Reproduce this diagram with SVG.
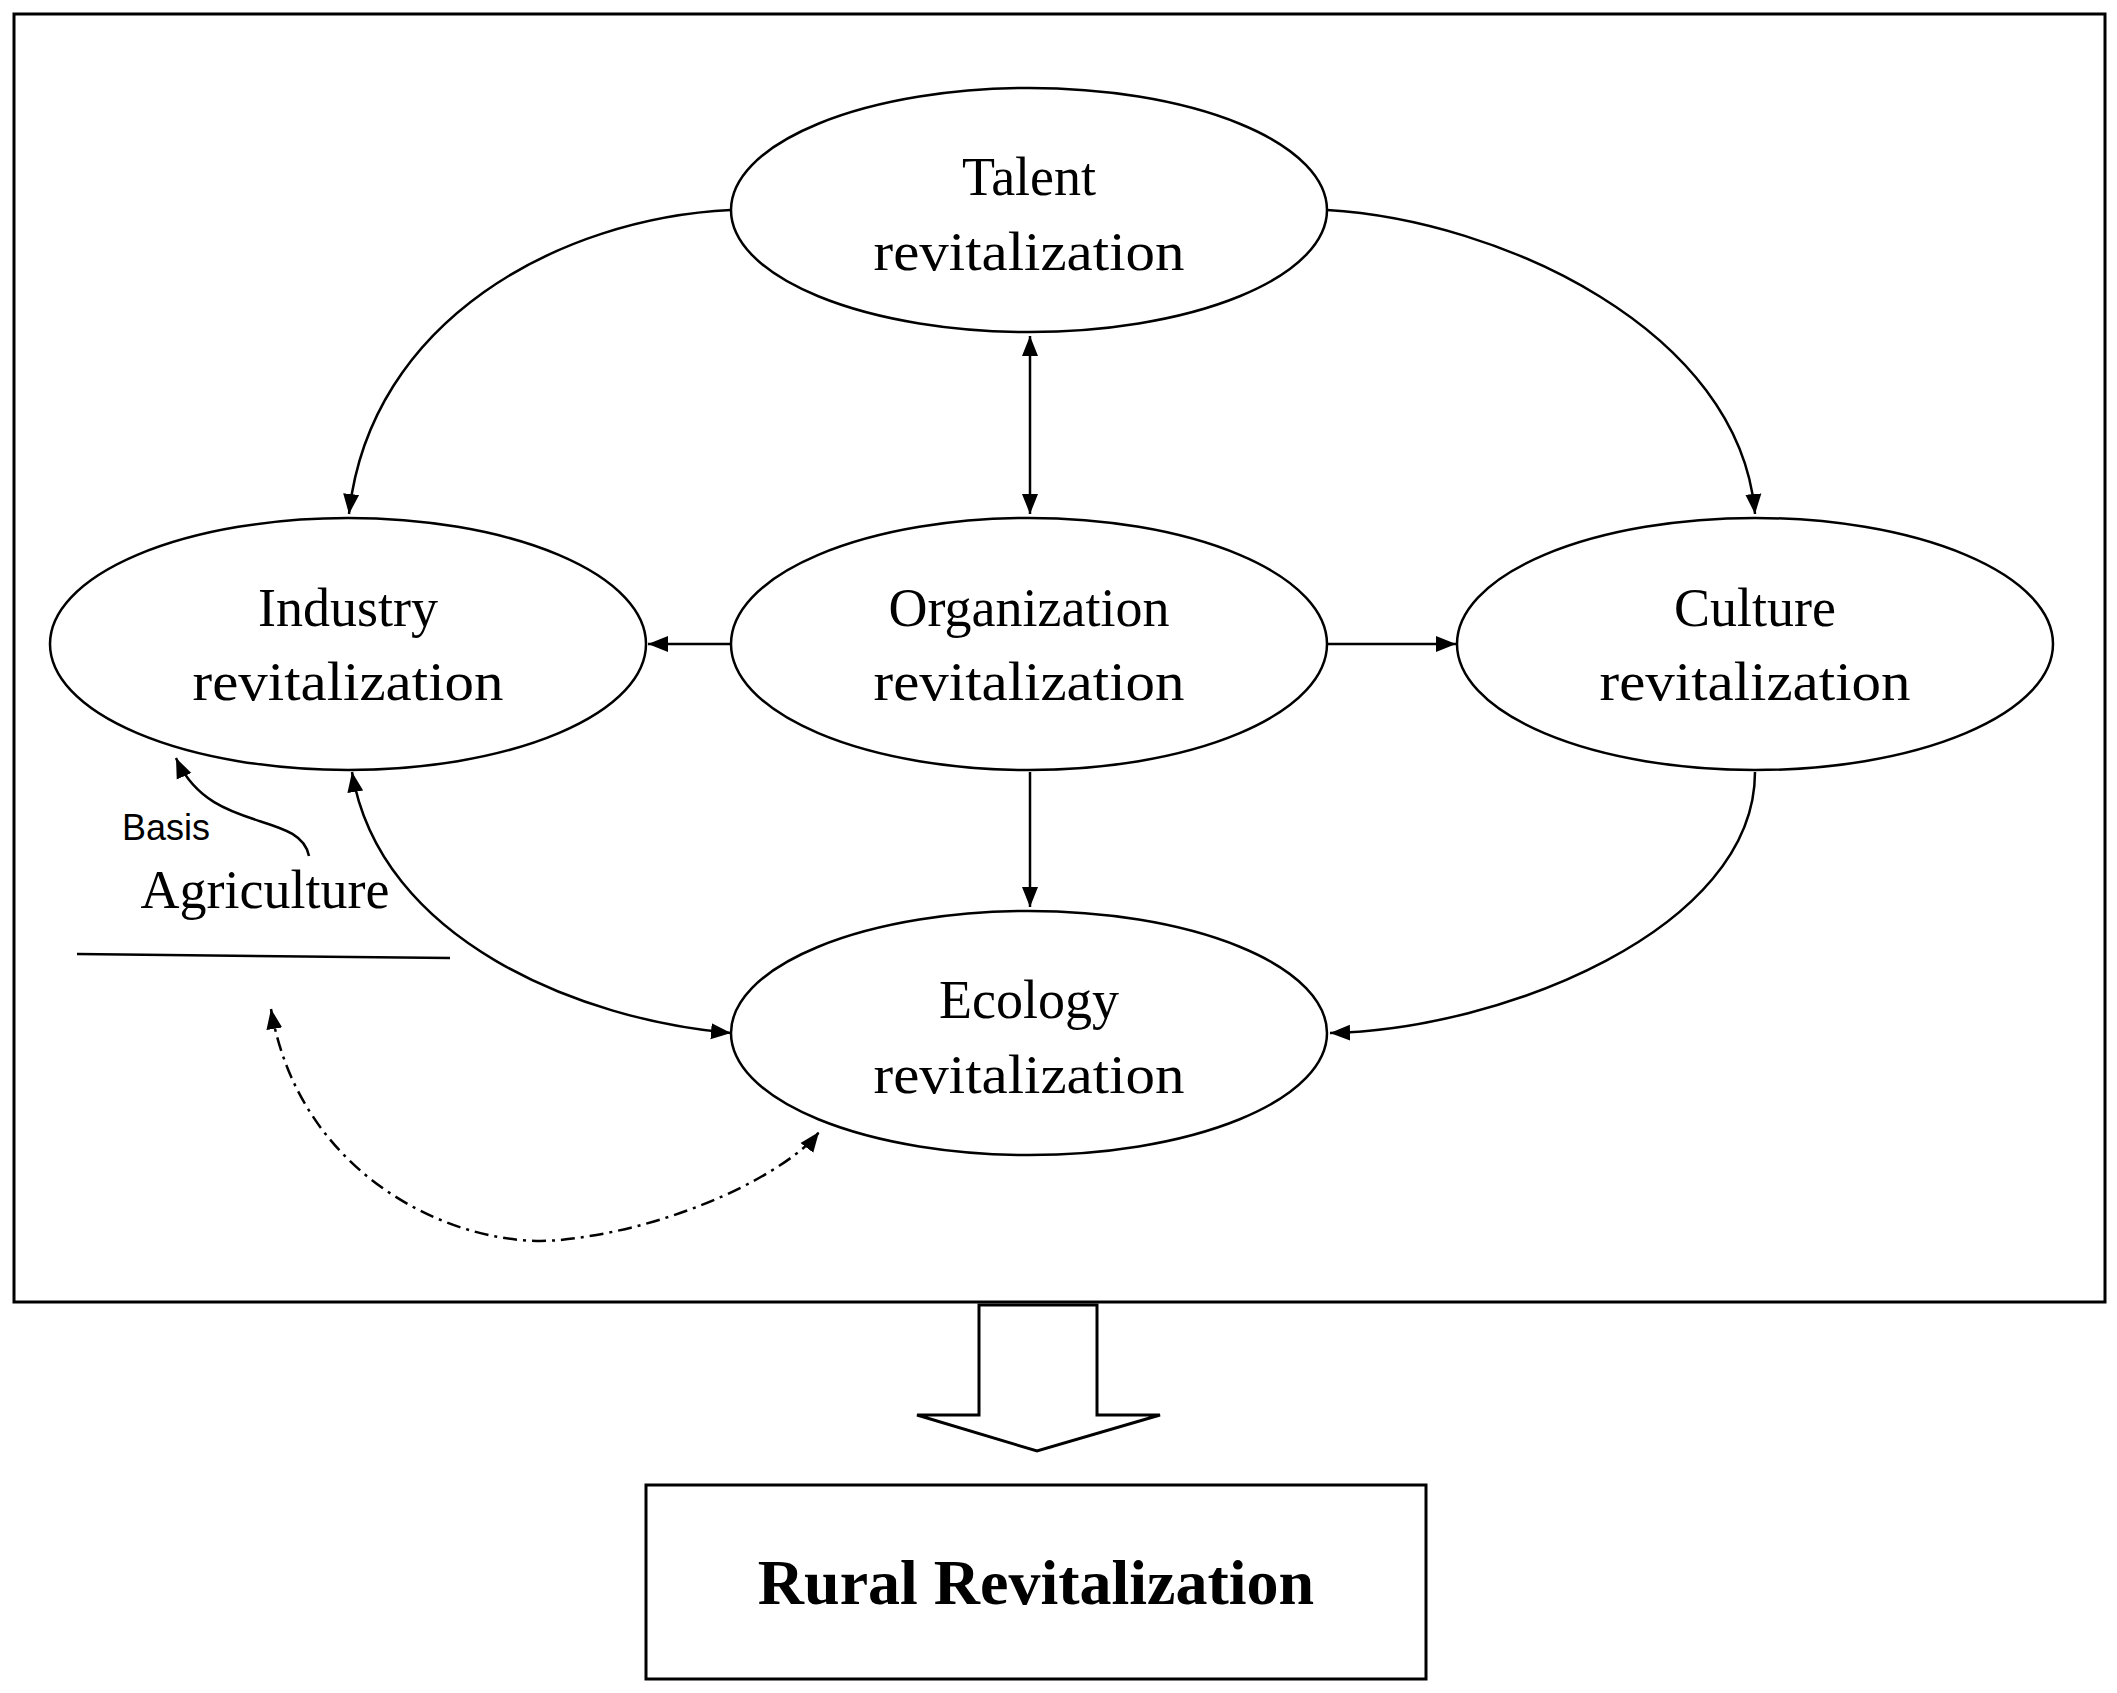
<svg xmlns="http://www.w3.org/2000/svg" width="2117" height="1693" viewBox="0 0 2117 1693">
<style>
.n{fill:#fff;stroke:#000;stroke-width:2.5}
.t{font-family:"Liberation Serif",serif;font-size:54px;text-anchor:middle;fill:#000}
.c{fill:none;stroke:#000;stroke-width:2.5}
</style>
<defs>
<marker id="a" viewBox="0 0 10 10" refX="10" refY="5" markerWidth="8" markerHeight="8" markerUnits="strokeWidth" orient="auto-start-reverse"><path d="M0,1 L10,5 L0,9 z" fill="#000"/></marker>
</defs>
<rect x="14" y="14" width="2091" height="1288" fill="#fff" stroke="#000" stroke-width="3"/>
<g id="talent"><ellipse class="n" cx="1029" cy="210" rx="298" ry="122"/><text class="t" x="1029" y="195">Talent</text><text class="t" x="1029" y="270" textLength="311" lengthAdjust="spacingAndGlyphs">revitalization</text></g>
<g id="industry"><ellipse class="n" cx="348" cy="644" rx="298" ry="126"/><text class="t" x="348" y="626">Industry</text><text class="t" x="348" y="700" textLength="311" lengthAdjust="spacingAndGlyphs">revitalization</text></g>
<g id="organization"><ellipse class="n" cx="1029" cy="644" rx="298" ry="126"/><text class="t" x="1029" y="626">Organization</text><text class="t" x="1029" y="700" textLength="311" lengthAdjust="spacingAndGlyphs">revitalization</text></g>
<g id="culture"><ellipse class="n" cx="1755" cy="644" rx="298" ry="126"/><text class="t" x="1755" y="626">Culture</text><text class="t" x="1755" y="700" textLength="311" lengthAdjust="spacingAndGlyphs">revitalization</text></g>
<g id="ecology"><ellipse class="n" cx="1029" cy="1033" rx="298" ry="122"/><text class="t" x="1029" y="1018">Ecology</text><text class="t" x="1029" y="1093" textLength="311" lengthAdjust="spacingAndGlyphs">revitalization</text></g>
<g id="agriculture"><text x="122" y="840" font-family="'Liberation Sans',sans-serif" font-size="36">Basis</text><text class="t" x="265" y="908" font-size="50">Agriculture</text><line x1="77" y1="954" x2="450" y2="958" stroke="#000" stroke-width="2.5"/></g>
<g id="connectors">
<path class="c" d="M731,210 C560,218 370,320 349,514" marker-end="url(#a)"/>
<path class="c" d="M1327,210 C1500,220 1740,330 1755,514" marker-end="url(#a)"/>
<line class="c" x1="1030" y1="336" x2="1030" y2="514" marker-start="url(#a)" marker-end="url(#a)"/>
<line class="c" x1="731" y1="644" x2="648" y2="644" marker-end="url(#a)"/>
<line class="c" x1="1327" y1="644" x2="1456" y2="644" marker-end="url(#a)"/>
<line class="c" x1="1030" y1="772" x2="1030" y2="907" marker-end="url(#a)"/>
<path class="c" d="M1755,772 C1755,930 1500,1030 1330,1033" marker-end="url(#a)"/>
<path class="c" d="M352,772 C380,940 580,1020 731,1033" marker-start="url(#a)" marker-end="url(#a)"/>
<path class="c" d="M309,856 C300,810 210,835 176,758" marker-end="url(#a)"/>
<path class="c" d="M271,1009 C300,1180 460,1250 560,1240 C680,1228 790,1170 819,1132" stroke-dasharray="14,6,3,6" marker-start="url(#a)" marker-end="url(#a)"/>
</g>
<path d="M979,1305 L1097,1305 L1097,1415 L1160,1415 L1037,1451 L917,1415 L979,1415 Z" fill="#fff" stroke="#000" stroke-width="3"/>
<g id="rural"><rect x="646" y="1485" width="780" height="194" fill="#fff" stroke="#000" stroke-width="3"/><text x="1036" y="1604" font-family="'Liberation Serif',serif" font-weight="bold" font-size="64" text-anchor="middle">Rural Revitalization</text></g>
</svg>
